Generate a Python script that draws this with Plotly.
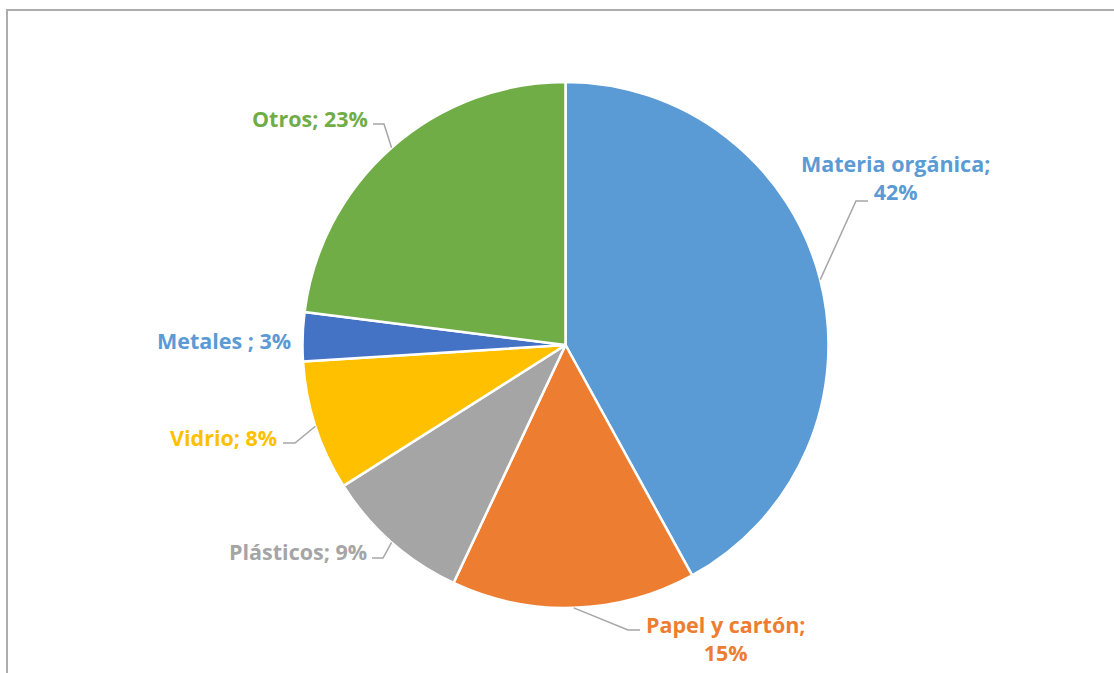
import math
import plotly.graph_objects as go

# Composition of municipal waste (percent)
categories = ["Materia orgánica", "Papel y cartón", "Plásticos", "Vidrio", "Metales ", "Otros"]
shares = [42, 15, 9, 8, 3, 23]
slice_colors = ["#5B9BD5", "#ED7D31", "#A5A5A5", "#FFC000", "#4472C4", "#70AD47"]
label_colors = ["#5B9BD5", "#ED7D31", "#A5A5A5", "#FFC000", "#5B9BD5", "#70AD47"]

W, H = 1114, 673
CX, CY, R = 565.5, 345, 263  # pie centre and radius in pixels

# label layout: (text x, text y, xanchor, elbow point, line end) in pixels
label_layout = [
    (895, 178, "center", (856, 201), (868, 201)),
    (725, 638, "center", (628, 630), (640, 630)),
    (369, 551, "right", (383, 558), (372, 558)),
    (279, 437, "right", (295, 443), (283, 443)),
    (293, 340, "right", None, None),
    (370, 118, "right", (384, 124), (373, 124)),
]
label_texts = [
    "Materia orgánica;<br>{}%",
    "Papel y cartón;<br>{}%",
    "Plásticos; {}%",
    "Vidrio; {}%",
    "Metales ; {}%",
    "Otros; {}%",
]


def px(x):
    return x / W


def py(y):
    return 1 - y / H


fig = go.Figure(
    go.Pie(
        labels=categories,
        values=shares,
        sort=False,
        direction="clockwise",
        rotation=0,
        marker=dict(colors=slice_colors, line=dict(color="white", width=2.5)),
        textinfo="none",
        hoverinfo="label+percent",
        showlegend=False,
        domain=dict(x=[px(CX - R), px(CX + R)], y=[py(CY + R), py(CY - R)]),
    )
)

total = sum(shares)
annotations = []
shapes = []
cum = 0
for i, v in enumerate(shares):
    mid = (cum + v / 2) / total * 2 * math.pi
    cum += v
    ex = CX + R * math.sin(mid)
    ey = CY - R * math.cos(mid)
    tx, ty, anchor, elbow, end = label_layout[i]
    annotations.append(
        dict(
            x=px(tx), y=py(ty), xref="paper", yref="paper",
            text="<b>" + label_texts[i].format(v) + "</b>",
            showarrow=False, xanchor=anchor, yanchor="middle", align="center",
            font=dict(family="Open Sans", size=21.5, color=label_colors[i]),
        )
    )
    if elbow is not None:
        path = "M {} {} L {} {} L {} {}".format(
            px(ex), py(ey), px(elbow[0]), py(elbow[1]), px(end[0]), py(end[1])
        )
        shapes.append(
            dict(type="path", xref="paper", yref="paper", path=path,
                 line=dict(color="#A6A6A6", width=1.5))
        )

# chart area frame (top and left edges)
shapes.append(dict(type="line", xref="paper", yref="paper",
                   x0=px(6), x1=px(1114), y0=py(10), y1=py(10),
                   line=dict(color="#ADADAD", width=2)))
shapes.append(dict(type="line", xref="paper", yref="paper",
                   x0=px(7), x1=px(7), y0=py(10), y1=py(673),
                   line=dict(color="#ADADAD", width=2)))

fig.update_layout(
    width=W, height=H,
    margin=dict(l=0, r=0, t=0, b=0),
    paper_bgcolor="white",
    plot_bgcolor="white",
    annotations=annotations,
    shapes=shapes,
)

fig.write_html("out.html")
